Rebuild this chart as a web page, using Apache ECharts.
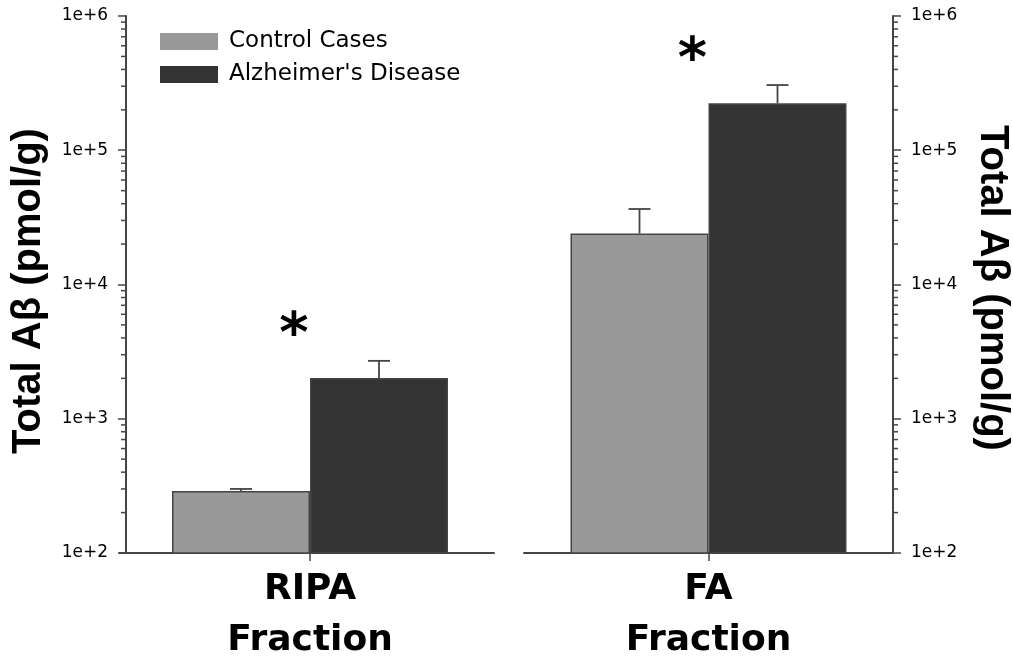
<!DOCTYPE html>
<html>
<head>
<meta charset="utf-8">
<script src="https://cdn.jsdelivr.net/npm/echarts@6/dist/echarts.min.js"></script>
<style>html,body{margin:0;padding:0;background:#fff}#c{width:1013px;height:660px}</style>
</head>
<body>
<div id="c"></div>
<script>
// ---- data ----
const fractions = ['RIPA\nFraction', 'FA\nFraction'];
const seriesNames = ['Control Cases', "Alzheimer's Disease"];
const controlMeans = [290, 24000];
const controlErrs = [10, 12500];
const adMeans = [2010, 224000];
const adErrs = [690, 82000];
const significant = [true, true];
const yTickExponents = [2, 3, 4, 5, 6];

const AX = '#454545';
const BAR_W = 138;
const chart = echarts.init(document.getElementById('c'), null, {renderer: 'canvas'});

const minorVals = [];
for (let e = yTickExponents[0]; e < yTickExponents[yTickExponents.length - 1]; e++) {
  for (let m = 2; m <= 9; m++) minorVals.push(m * Math.pow(10, e));
}

function yAxisDef(gi, pos) {
  return {
    type: 'log', logBase: 10, gridIndex: gi, position: pos,
    min: Math.pow(10, yTickExponents[0]), max: Math.pow(10, yTickExponents[yTickExponents.length - 1]),
    name: 'Total A\u03b2 (pmol/g)', nameLocation: 'middle',
    nameRotate: pos === 'left' ? 90 : -90, nameGap: pos === 'left' ? 77 : 79,
    nameTextStyle: {fontFamily: 'Liberation Sans', fontWeight: 'bold', fontSize: 40, color: '#000',
      padding: pos === 'left' ? [0, 13, 0, 0] : [0, 0, 0, 7]},
    axisLine: {show: true, lineStyle: {color: AX, width: 2}},
    axisTick: {show: true, length: 8, lineStyle: {color: AX, width: 1.5}},
    axisLabel: {fontFamily: 'DejaVu Sans', fontSize: 17, color: '#000', margin: 18,
      formatter: v => '1e+' + Math.round(Math.log10(v))},
    splitLine: {show: false}
  };
}
function xAxisDef(gi, idx) {
  return {
    type: 'category', gridIndex: gi, data: [fractions[idx]],
    axisLine: {show: true, lineStyle: {color: AX, width: 2}},
    axisTick: {show: true, alignWithLabel: true, length: 8, lineStyle: {color: AX, width: 1.5}},
    axisLabel: {fontFamily: 'DejaVu Sans', fontWeight: 'bold', fontSize: 36, lineHeight: 51, color: '#000', margin: 11}
  };
}

const series = [];
[0, 1].forEach(gi => {
  series.push({
    type: 'bar', name: seriesNames[0], xAxisIndex: gi, yAxisIndex: gi,
    data: [controlMeans[gi]], barWidth: BAR_W, barGap: '0%',
    itemStyle: {color: '#999999', borderColor: AX, borderWidth: 1.5}
  });
  series.push({
    type: 'bar', name: seriesNames[1], xAxisIndex: gi, yAxisIndex: gi,
    data: [adMeans[gi]], barWidth: BAR_W, barGap: '0%',
    itemStyle: {color: '#333333', borderColor: AX, borderWidth: 1.5}
  });
  // error bars (upper only)
  series.push({
    type: 'custom', xAxisIndex: gi, yAxisIndex: gi, z: 5, silent: true,
    data: [[0, controlMeans[gi], controlErrs[gi], -1], [0, adMeans[gi], adErrs[gi], 1]],
    renderItem: (params, api) => {
      const base = api.coord([api.value(0), api.value(1)]);
      const top = api.coord([api.value(0), api.value(1) + api.value(2)]);
      const x = base[0] + api.value(3) * BAR_W / 2;
      return {type: 'group', children: [
        {type: 'line', shape: {x1: x, y1: base[1], x2: x, y2: top[1]}, style: {stroke: AX, lineWidth: 1.8}},
        {type: 'line', shape: {x1: x - 11, y1: top[1], x2: x + 11, y2: top[1]}, style: {stroke: AX, lineWidth: 1.8}}
      ]};
    }
  });
  // significance asterisk
  series.push({
    type: 'custom', xAxisIndex: gi, yAxisIndex: gi, z: 6, silent: true,
    data: significant[gi] ? [[0, adMeans[gi] + adErrs[gi]]] : [],
    renderItem: (params, api) => {
      const p = api.coord([api.value(0), api.value(1)]);
      return {type: 'text', x: p[0] - 16, y: p[1] - 24,
        style: {text: '*', fontFamily: 'DejaVu Sans', fontWeight: 'bold', fontSize: 56, fill: '#000',
          align: 'center', verticalAlign: 'middle'}};
    }
  });
  // minor log ticks
  series.push({
    type: 'custom', xAxisIndex: gi, yAxisIndex: gi, z: 4, silent: true,
    data: minorVals.map(v => [0, v]),
    renderItem: (params, api) => {
      const p = api.coord([0, api.value(1)]);
      const cs = params.coordSys;
      const x0 = gi === 0 ? cs.x : cs.x + cs.width;
      const x1 = gi === 0 ? x0 - 5 : x0 + 5;
      return {type: 'line', shape: {x1: x0, y1: p[1], x2: x1, y2: p[1]}, style: {stroke: AX, lineWidth: 1.5}};
    }
  });
});

chart.setOption({
  animation: false,
  backgroundColor: '#fff',
  grid: [
    {left: 126, right: 519, top: 16, bottom: 107, outerBoundsMode: 'none', containLabel: false},
    {left: 524, right: 120, top: 16, bottom: 107, outerBoundsMode: 'none', containLabel: false}
  ],
  xAxis: [xAxisDef(0, 0), xAxisDef(1, 1)],
  yAxis: [yAxisDef(0, 'left'), yAxisDef(1, 'right')],
  legend: {
    data: seriesNames, orient: 'vertical', left: 155, top: 25,
    itemWidth: 58, itemHeight: 17, itemGap: 10, icon: 'rect',
    itemStyle: {borderWidth: 0},
    textStyle: {fontFamily: 'DejaVu Sans', fontSize: 23, color: '#000', padding: [0, 0, 0, 6]}
  },
  graphic: [
    {type: 'line', shape: {x1: 119, y1: 553, x2: 126, y2: 553}, style: {stroke: AX, lineWidth: 2}}
  ],
  series: series
});
</script>
</body>
</html>
